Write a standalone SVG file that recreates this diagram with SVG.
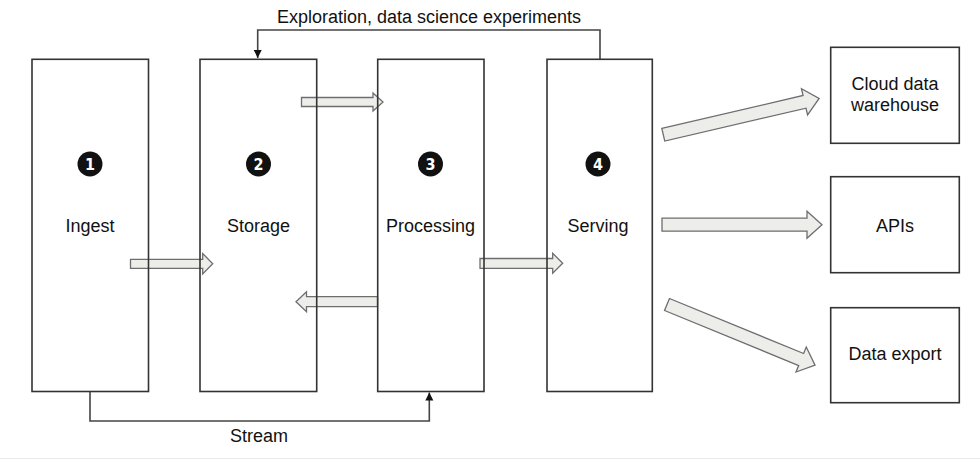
<svg xmlns="http://www.w3.org/2000/svg" width="980" height="464" viewBox="0 0 980 464">
  <style>
    .box { fill: none; stroke: #333; stroke-width: 1.6; }
    .lbl { font-family: "Liberation Sans", Arial, sans-serif; font-size: 18px; fill: #111; text-anchor: middle; }
    .badge { fill: #111; }
    .num { font-family: "DejaVu Sans Condensed", "Liberation Sans Narrow", "Liberation Sans", sans-serif; font-size: 16px; font-weight: bold; fill: #fff; text-anchor: middle; }
    .block { fill: #ededea; stroke: #6e6e6e; stroke-width: 1.3; stroke-linejoin: miter; }
    .line { fill: none; stroke: #444; stroke-width: 1.6; }
  </style>
  <defs>
    <marker id="ah" viewBox="0 0 10 10" refX="10" refY="5" markerWidth="8" markerHeight="13" markerUnits="userSpaceOnUse" orient="auto">
      <path d="M0,0 L10,5 L0,10 Z" fill="#111"/>
    </marker>
    <path id="big" d="M0,-6.5 H145 V-13.5 L160,0 L145,13.5 V6.5 H0 Z"/>
  </defs>
  <rect x="0" y="0" width="980" height="464" fill="#fff"/>
  <line x1="0" y1="458.5" x2="980" y2="458.5" stroke="#ececec" stroke-width="1"/>

  <g id="connectors">
    <path class="line" d="M600,59 V30 H257.7 V58" marker-end="url(#ah)"/>
    <text class="lbl" x="429" y="23">Exploration, data science experiments</text>
    <path class="line" d="M90,391.5 V421 H429.3 V392.5" marker-end="url(#ah)"/>
    <text class="lbl" x="259" y="442">Stream</text>
    <path class="block" d="M130.5,259.3 H202.7 V253.5 L212.7,263.8 L202.7,274 V268.3 H130.5 Z"/>
    <path class="block" d="M301.5,97.5 H373 V93 L383,102 L373,111 V106.5 H301.5 Z"/>
    <path class="block" d="M377.5,296.7 H306.5 V291.7 L296,301.7 L306.5,311.7 V306.7 H377.5 Z"/>
    <path class="block" d="M480,258.5 H552.7 V253.3 L562.7,263.3 L552.7,273.3 V268.3 H480 Z"/>
    <use href="#big" class="block" transform="translate(663.3,134.7) rotate(-13.1)"/>
    <use href="#big" class="block" transform="translate(662,224.7)"/>
    <use href="#big" class="block" transform="translate(667,304.5) rotate(22.3)"/>
  </g>

  <g id="ingest">
    <rect class="box" x="32" y="59.3" width="116.5" height="332.2"/>
    <circle class="badge" cx="90" cy="164" r="12.5"/>
    <text class="num" x="90" y="169.8">1</text>
    <text class="lbl" x="90" y="232">Ingest</text>
  </g>
  <g id="storage">
    <rect class="box" x="200" y="59.3" width="116.7" height="332.2"/>
    <circle class="badge" cx="258.5" cy="164" r="12.5"/>
    <text class="num" x="258.5" y="169.8">2</text>
    <text class="lbl" x="258.5" y="232">Storage</text>
  </g>
  <g id="processing">
    <rect class="box" x="377.7" y="59.3" width="106.3" height="332.2"/>
    <circle class="badge" cx="430.5" cy="164" r="12.5"/>
    <text class="num" x="430.5" y="169.8">3</text>
    <text class="lbl" x="430.5" y="232">Processing</text>
  </g>
  <g id="serving">
    <rect class="box" x="547" y="59.3" width="105.3" height="332.2"/>
    <circle class="badge" cx="598" cy="164" r="12.5"/>
    <text class="num" x="598" y="169.8">4</text>
    <text class="lbl" x="598" y="232">Serving</text>
  </g>
  <g id="cloud">
    <rect class="box" x="830.7" y="47.3" width="128.6" height="96"/>
    <text class="lbl" x="895" y="90">Cloud data</text>
    <text class="lbl" x="895" y="111">warehouse</text>
  </g>
  <g id="apis">
    <rect class="box" x="830.7" y="176.7" width="128.6" height="96"/>
    <text class="lbl" x="895" y="232">APIs</text>
  </g>
  <g id="export">
    <rect class="box" x="830.7" y="307.7" width="128.6" height="95"/>
    <text class="lbl" x="895" y="359.5">Data export</text>
  </g>
</svg>
